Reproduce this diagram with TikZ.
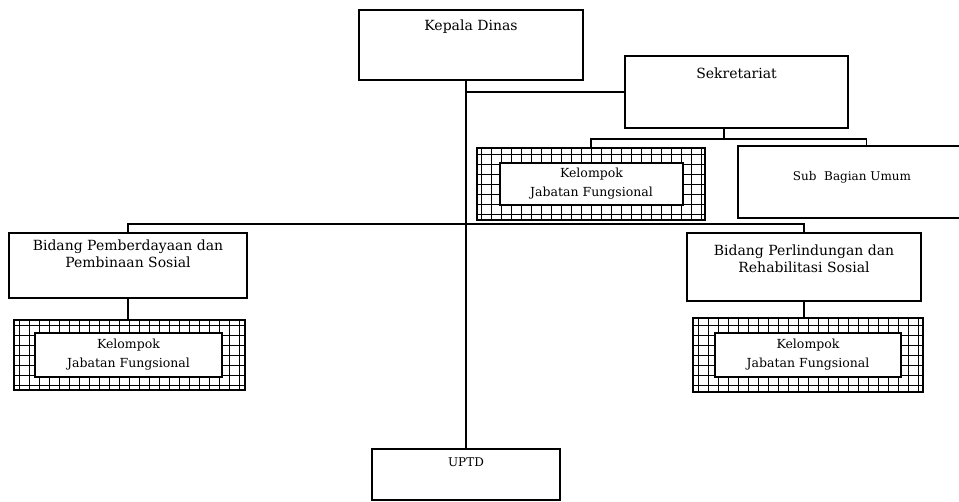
\documentclass[tikz,border=0pt]{standalone}
\usepackage{fontspec}
\setmainfont{DejaVu Serif}
\tikzset{
  unit/.style={draw, line width=1.3pt, inner sep=0pt},
  toptext/.style 2 args={label={[anchor=north, yshift=-#1, align=center, font=\fontsize{14}{17}\selectfont]north:#2}},
  gridbox/.style={draw, line width=1.8pt, inner sep=0pt,
    path picture={\draw[line width=0.6pt, step=10pt] (path picture bounding box.south west) grid (path picture bounding box.north east);}},
  fungbox/.style={draw, fill=white, line width=1.3pt, align=center, inner sep=0pt, font=\fontsize{12.5}{19}\selectfont},
  link/.style={line width=1.4pt}
}
\begin{document}
\begin{tikzpicture}[x=1pt,y=-1pt]
		\useasboundingbox (0,0) rectangle (959,502);
		%pimpinan
		\node[unit, minimum width=224pt, minimum height=70pt, toptext={7pt}{Kepala Dinas}] (kd) at (471,45) {};
		\node[unit, minimum width=223pt, minimum height=72pt, toptext={9pt}{Sekretariat}] (sek) at (736.5,92) {};
		%bawah sekretariat
		\node[gridbox, minimum width=228pt, minimum height=72pt] (kjf1) at (591,184) {};
		\node[fungbox, minimum width=183pt, minimum height=42pt] (kjf1in) at (591.5,184) {Kelompok\\Jabatan Fungsional};
		\node[unit, minimum width=257pt, minimum height=72pt,
		  label={[xshift=-14.5pt, yshift=5pt, font=\fontsize{12}{14}\selectfont]center:Sub\ \ Bagian Umum}] (sba) at (866.5,182) {};
		%bidang
		\node[unit, minimum width=238pt, minimum height=65pt, toptext={4pt}{Bidang Pemberdayaan dan\\Pembinaan Sosial}] (bpp) at (128,265.5) {};
		\node[unit, minimum width=234pt, minimum height=68pt, toptext={9pt}{Bidang Perlindungan dan\\Rehabilitasi Sosial}] (bprs) at (804,267) {};
		\node[gridbox, minimum width=231pt, minimum height=70pt] (kjf2) at (129.5,355) {};
		\node[fungbox, minimum width=187pt, minimum height=44pt] (kjf2in) at (128.5,355) {Kelompok\\Jabatan Fungsional};
		\node[gridbox, minimum width=230pt, minimum height=74pt] (kjf3) at (808,355) {};
		\node[fungbox, minimum width=186pt, minimum height=44pt] (kjf3in) at (808,355) {Kelompok\\Jabatan Fungsional};
		%uptd
		\node[unit, minimum width=188pt, minimum height=51pt,
		  label={[anchor=north, yshift=-6pt, font=\fontsize{12}{14}\selectfont]north:UPTD}] (uptd) at (466,474.5) {};
		%garis
		\coordinate (sekbar) at (724,139);
		\coordinate (midbar) at (466,224);
		\draw[link] (kd.south -| uptd.north) -- (uptd.north);
		\draw[link] (sek.west -| uptd.north) -- (sek.west);
		\draw[link] (sekbar |- sek.south) -- (sekbar);
		\draw[link] (kjf1.north) |- (sekbar) -| (sba.north);
		\draw[link] (bpp.north) |- (midbar) -| (bprs.north);
		\draw[link] (bpp.south) -- (bpp.south |- kjf2.north);
		\draw[link] (bprs.south) -- (bprs.south |- kjf3.north);
	\end{tikzpicture}
\end{document}
